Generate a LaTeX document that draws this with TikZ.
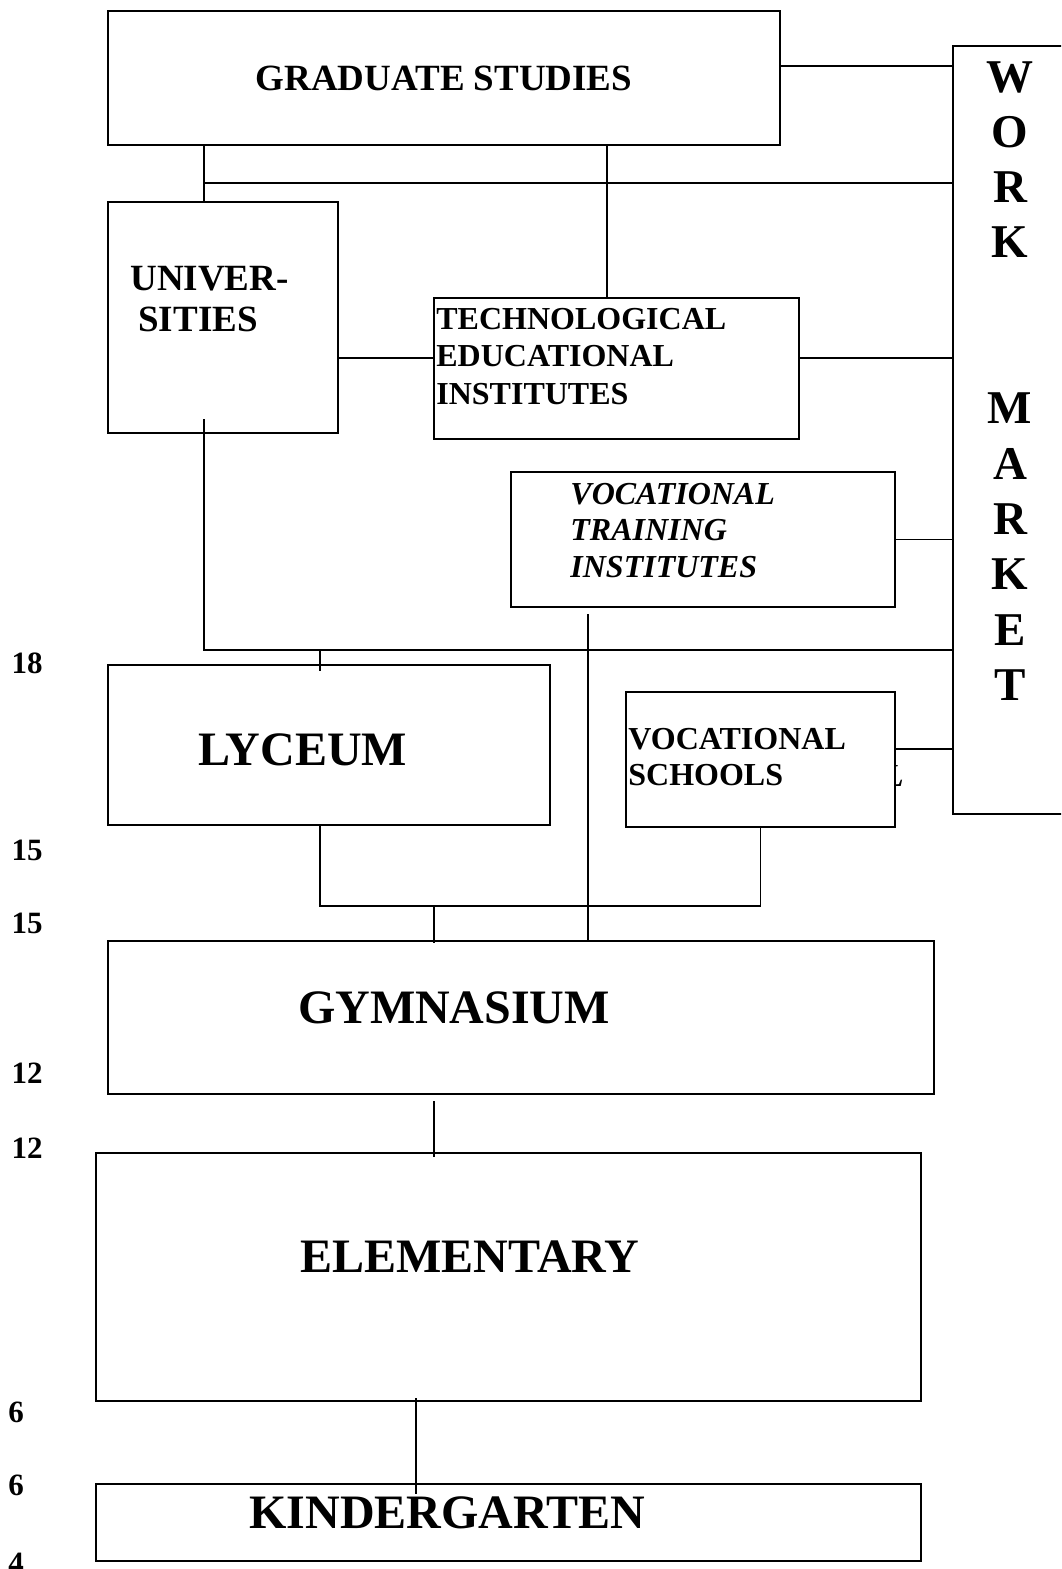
\documentclass[tikz,border=0pt]{standalone}
\usepackage{fontspec}
\setmainfont{Liberation Serif}
\usepackage{tikz}
\usetikzlibrary{positioning, calc}

\begin{document}
\begin{tikzpicture}[
  x=0.5pt, y=-0.5pt,
  box/.style={
    rectangle,
    draw=black,
    line width=1pt,
    fill=white,
    inner sep=0pt
  },
  link/.style={line width=0.75pt},
  huge/.style={inner sep=0pt, font=\fontsize{24}{28}\selectfont\bfseries},
  mid/.style={inner sep=0pt, align=left, font=\fontsize{18.5}{20.5}\selectfont\bfseries},
  small/.style={inner sep=0pt, align=left, font=\fontsize{16}{#1}\selectfont\bfseries},
  slanted/.style={inner sep=0pt, align=left, font=\fontsize{16}{#1}\selectfont\bfseries\itshape},
  age/.style={inner sep=0pt, font=\fontsize{15.5}{18}\selectfont\bfseries}
]
  \clip (0,0) rectangle (1061,1569);

  \node[slanted=18, anchor=base east] (vsghost) at (904,786) {L};

  \node[box, minimum width=336pt, minimum height=67pt] (grad) at (444,78) {};
  \node[box, minimum width=123.5pt, minimum height=384pt] (work) at (1076.5,430) {};
  \node[box, minimum width=115pt, minimum height=115.5pt] (univ) at (223,317.5) {};
  \node[box, minimum width=182.5pt, minimum height=70.5pt] (tei) at (616.5,368.5) {};
  \node[box, minimum width=192pt, minimum height=67.5pt] (vti) at (703,539.5) {};
  \node[box, minimum width=221pt, minimum height=80pt] (lyc) at (329,745) {};
  \node[box, minimum width=134.5pt, minimum height=67.5pt] (vs) at (760.5,759.5) {};
  \node[box, minimum width=413pt, minimum height=76.5pt] (gym) at (521,1017.5) {};
  \node[box, minimum width=412.5pt, minimum height=124pt] (elem) at (508.5,1277) {};
  \node[box, minimum width=412.5pt, minimum height=38.5pt] (kg) at (508.5,1522.5) {};

  \coordinate (hiA) at (204,183);
  \coordinate (loA) at (204,650);
  \coordinate (split) at (434,906);

  \draw[link] ([yshift=6pt]grad.east) -- ([yshift=6pt]grad.east -| work.west);
  \draw[link] (grad.south -| hiA) -- (univ.north -| hiA);
  \draw[link] (hiA) -- (hiA -| work.west);
  \draw[link] ([xshift=-4.75pt]tei.north) -- ([xshift=-4.75pt]tei.north |- grad.south);
  \draw[link] ([yshift=5.25pt]tei.west) -- ([yshift=5.25pt]tei.west -| univ.east);
  \draw[link] ([yshift=5.25pt]tei.east) -- ([yshift=5.25pt]tei.east -| work.west);
  \draw[link] (vti.east) -- (vti.east -| work.west);
  \draw[link] ([yshift=7.5pt]univ.south -| loA) -- (loA) -- (loA -| work.west);
  \draw[link] ([xshift=-4.5pt]lyc.north |- loA) -- ([xshift=-4.5pt,yshift=-3.5pt]lyc.north);
  \draw[link] ([yshift=5.25pt]vs.east) -- ([yshift=5.25pt]vs.east -| work.west);
  \draw[link] ([xshift=-57.5pt,yshift=-3pt]vti.south) -- ([xshift=-57.5pt]vti.south |- gym.north);
  \draw[link] ([xshift=-4.5pt]lyc.south) |- (split) -| (vs.south);
  \draw[link] (split) -- ([yshift=-1.5pt]split |- gym.north);
  \draw[link] ([yshift=-3pt]gym.south -| split) -- ([yshift=-2.5pt]elem.north -| split);
  \draw[link] ([xshift=-46.25pt,yshift=2pt]elem.south) -- ([xshift=-46.25pt,yshift=-5.5pt]kg.north);

  \node[inner sep=0pt, font=\fontsize{18.5}{22}\selectfont\bfseries] (gradtxt) at (444,78) {GRADUATE STUDIES};
  \foreach \l [count=\i] in {W,O,R,K,{},{},M,A,R,K,E,T}
    \node[inner sep=0pt, anchor=base, font=\fontsize{23.5}{27}\selectfont\bfseries] (wm\i) at (1010,{92+(\i-1)*55.3}) {\l};
  \node[mid, anchor=west] (univtxt) at (130,299.5) {UNIVER-\\\hspace*{4pt}SITIES};
  \node[small=18.75, anchor=west] (teitxt) at (436,356.5) {TECHNOLOGICAL\\EDUCATIONAL\\INSTITUTES};
  \node[slanted=18.25, anchor=west] (vtitxt) at (570,530.5) {VOCATIONAL\\TRAINING\\INSTITUTES};
  \node[small=18, anchor=west] (vstxt) at (628,757) {VOCATIONAL\\SCHOOLS};
  \node[huge] (lyctxt) at (302.5,750) {LYCEUM};
  \node[huge] (gymtxt) at (454,1008) {GYMNASIUM};
  \node[huge] (elemtxt) at (470,1257) {ELEMENTARY};
  \node[huge] (kgtxt) at (447.5,1513) {KINDERGARTEN};

  \node[age] (a18) at (27,663) {18};
  \node[age] (a15) at (27,850) {15};
  \node[age] (b15) at (27,923) {15};
  \node[age] (a12) at (27,1073) {12};
  \node[age] (b12) at (27,1148) {12};
  \node[age] (a6) at (16,1412) {6};
  \node[age] (b6) at (16,1485) {6};
  \node[age] (a4) at (16,1563) {4};
\end{tikzpicture}
\end{document}
